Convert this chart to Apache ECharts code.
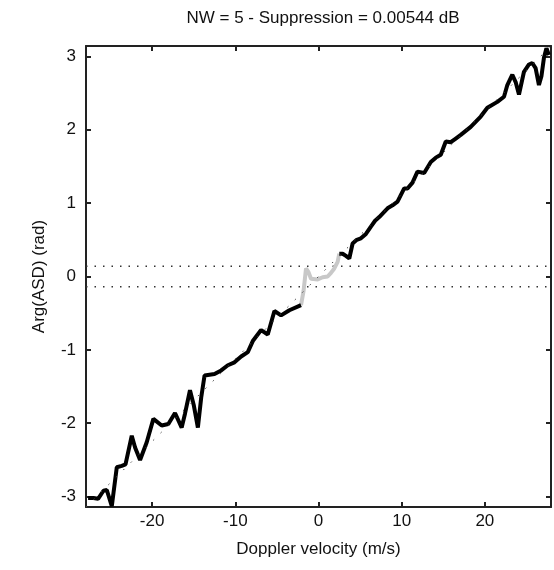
<!DOCTYPE html>
<html>
<head>
<meta charset="utf-8">
<script src="https://cdn.jsdelivr.net/npm/echarts@6/dist/echarts.min.js"></script>
<style>html,body{margin:0;padding:0;background:#fff}#c{width:554px;height:570px}</style>
</head>
<body>
<div id="c"></div>
<script>
var titleText = 'NW = 5 - Suppression = 0.00544 dB';
var xName = 'Doppler velocity (m/s)';
var yName = 'Arg(ASD) (rad)';
var xLimit = 27.95;
var yLimit = Math.PI;
var xTicks = [-20, -10, 0, 10, 20];
var yTicks = [-3, -2, -1, 0, 1, 2, 3];
var threshold = 0.14;

// black part below the suppressed region
var lowX = [-27.7, -27.05, -26.5, -25.85, -25.45, -24.85, -24.25, -23.65, -23.2, -22.45, -22.05, -21.45, -20.65, -19.85, -18.85, -18.05, -17.25, -16.45, -16.05, -15.45, -15.0, -14.5, -14.1, -13.7, -12.5, -11.7, -10.9, -10.1, -9.3, -8.5, -7.9, -6.9, -6.1, -5.3, -4.5, -3.5, -2.1];
var lowY = [-3.02, -3.02, -3.03, -2.92, -2.91, -3.13, -2.60, -2.58, -2.56, -2.17, -2.33, -2.50, -2.26, -1.94, -2.03, -2.01, -1.86, -2.06, -1.87, -1.55, -1.75, -2.06, -1.65, -1.35, -1.33, -1.28, -1.21, -1.17, -1.09, -1.03, -0.88, -0.73, -0.79, -0.47, -0.53, -0.46, -0.39];
// grey suppressed part
var midX = [-2.1, -1.8, -1.5, -1.2, -0.9, -0.1, 0.5, 1.1, 1.5, 1.9, 2.3, 2.5];
var midY = [-0.39, -0.2, 0.11, 0.06, -0.03, -0.04, -0.01, 0.0, 0.05, 0.11, 0.2, 0.31];
// black part above
var highX = [2.5, 2.9, 3.3, 3.7, 4.1, 4.6, 5.1, 5.7, 6.3, 6.8, 7.3, 8.3, 8.9, 9.5, 10.3, 10.7, 11.3, 11.9, 12.7, 13.5, 14.1, 14.7, 15.3, 15.9, 16.5, 17.1, 18.3, 19.5, 20.3, 21.5, 22.3, 22.7, 23.3, 23.7, 24.1, 24.7, 25.3, 25.7, 26.1, 26.5, 26.8, 27.1, 27.4, 27.7];
var highY = [0.31, 0.31, 0.28, 0.245, 0.45, 0.50, 0.52, 0.58, 0.68, 0.76, 0.81, 0.93, 0.97, 1.02, 1.20, 1.20, 1.28, 1.43, 1.41, 1.56, 1.62, 1.66, 1.84, 1.83, 1.88, 1.93, 2.04, 2.18, 2.30, 2.38, 2.45, 2.61, 2.75, 2.65, 2.48, 2.79, 2.89, 2.91, 2.84, 2.61, 2.73, 2.98, 3.11, 3.02];

function zip(a, b) { return a.map(function (v, i) { return [v, b[i]]; }); }

var font = 'Liberation Sans, Arial, sans-serif';
var axCol = '#222';
var fs = 17;
function xAx(pos, show) {
  return {
    type: 'value', position: pos, min: -xLimit, max: xLimit,
    name: show ? xName : '', nameLocation: 'middle', nameGap: 34,
    nameTextStyle: { fontFamily: font, fontSize: fs, color: '#111' },
    axisLine: { show: true, onZero: false, lineStyle: { color: axCol, width: 2 } },
    axisTick: { show: true, inside: true, length: 5, customValues: xTicks, lineStyle: { color: axCol, width: 2 } },
    axisLabel: { show: show, customValues: xTicks, fontFamily: font, fontSize: fs, color: '#111', margin: 6 },
    splitLine: { show: false }
  };
}
function yAx(pos, show) {
  return {
    type: 'value', position: pos, min: -yLimit, max: yLimit,
    name: show ? yName : '', nameLocation: 'middle', nameGap: 38,
    nameTextStyle: { fontFamily: font, fontSize: fs, color: '#111' },
    axisLine: { show: true, onZero: false, lineStyle: { color: axCol, width: 2 } },
    axisTick: { show: true, inside: true, length: 5, customValues: yTicks, lineStyle: { color: axCol, width: 2 } },
    axisLabel: { show: show, customValues: yTicks, fontFamily: font, fontSize: fs, color: '#111', margin: 10 },
    splitLine: { show: false }
  };
}

var chart = echarts.init(document.getElementById('c'), null, { renderer: 'canvas' });
chart.setOption({
  animation: false,
  backgroundColor: '#fff',
  title: { text: titleText, left: 318, textAlign: 'center', top: 5,
    textStyle: { fontFamily: font, fontSize: fs, fontWeight: 'normal', color: '#111' } },
  grid: { left: 86, right: 3, top: 46, bottom: 63 },
  xAxis: [xAx('bottom', true), xAx('top', false)],
  yAxis: [yAx('left', true), yAx('right', false)],
  series: [
    { type: 'line', data: [[-xLimit, threshold], [xLimit, threshold]], symbol: 'none',
      lineStyle: { color: '#333', width: 1.5, type: [1.5, 7] }, z: 1 },
    { type: 'line', data: [[-xLimit, -threshold], [xLimit, -threshold]], symbol: 'none',
      lineStyle: { color: '#333', width: 1.5, type: [1.5, 7] }, z: 1 },
    { type: 'line', data: zip(lowX, lowY), symbol: 'none',
      lineStyle: { color: '#000', width: 4 }, z: 3 },
    { type: 'line', data: zip(midX, midY), symbol: 'none',
      lineStyle: { color: '#c8c8c8', width: 4 }, z: 2 },
    { type: 'line', data: zip(highX, highY), symbol: 'none',
      lineStyle: { color: '#000', width: 4 }, z: 3 },
    { type: 'line', data: [[-xLimit, -yLimit], [xLimit, yLimit]], symbol: 'none',
      lineStyle: { color: '#444', width: 1, type: [1.5, 9] }, z: 4 }
  ]
});
</script>
</body>
</html>
